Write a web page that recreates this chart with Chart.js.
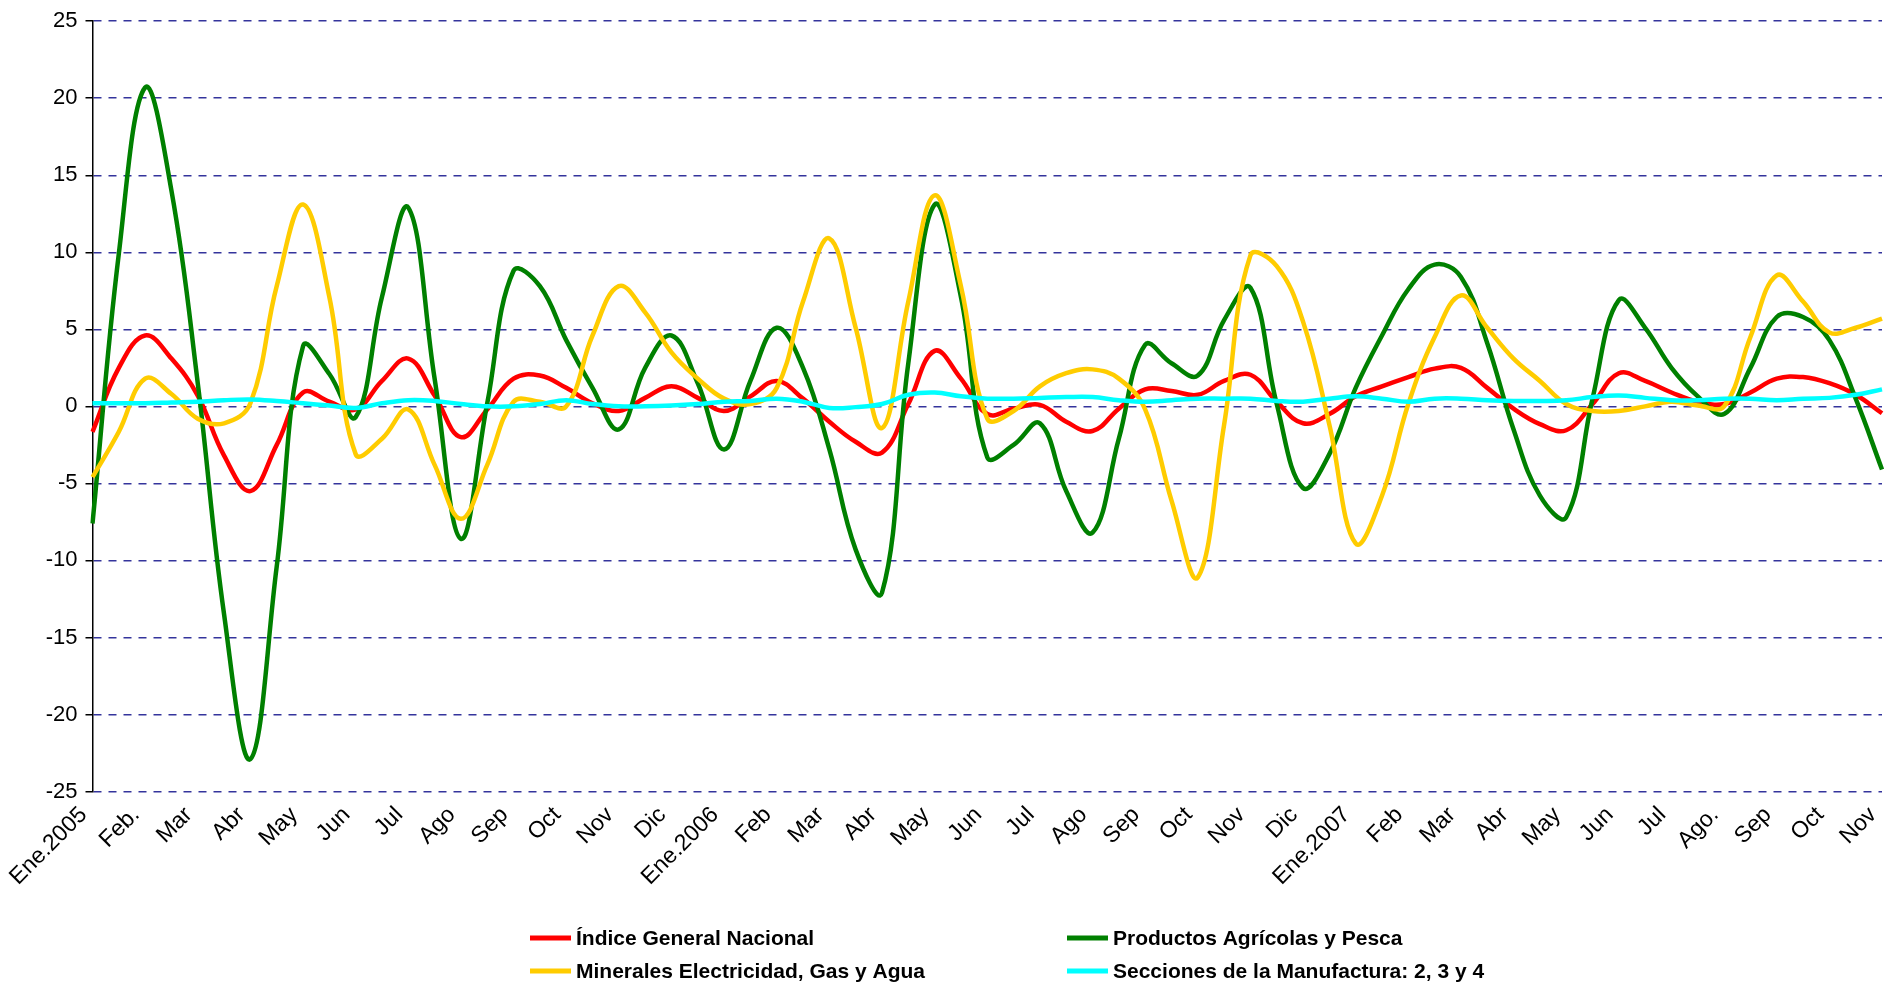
<!DOCTYPE html>
<html>
<head>
<meta charset="utf-8">
<script src="https://cdn.jsdelivr.net/npm/chart.js@4"></script>
<style>
  html, body { margin: 0; padding: 0; background: #fff; }
  #wrap { width: 1889px; height: 984px; position: relative; }
</style>
</head>
<body>
<div id="wrap"><canvas id="chart"></canvas></div>
<script>
// months on the axis; series are read twice a month (start + mid month)
const monthLabels = ['Ene.2005', 'Feb.', 'Mar', 'Abr', 'May', 'Jun', 'Jul', 'Ago', 'Sep', 'Oct', 'Nov', 'Dic',
  'Ene.2006', 'Feb', 'Mar', 'Abr', 'May', 'Jun', 'Jul', 'Ago', 'Sep', 'Oct', 'Nov', 'Dic',
  'Ene.2007', 'Feb', 'Mar', 'Abr', 'May', 'Jun', 'Jul', 'Ago.', 'Sep', 'Oct', 'Nov'];

const indiceGeneral = [-1.65, 2.5, 4.6, 3.1, 0.7, -3.2, -5.5, -2.5, 0.9, 0.3, -0.2, 1.65, 3.1, 0.7, -2.0, -0.2, 1.8,
  2.0, 1.2, 0.2, -0.3, 0.55, 1.3, 0.55, -0.3, 0.65, 1.65, 0.5, -1.0, -2.3, -3.0, 0.15, 3.6, 1.8,
  -0.5, -0.15, 0.1, -1.0, -1.6, -0.15, 1.1, 1.0, 0.75, 1.65, 2.05, 0.3, -1.1, -0.5, 0.65, 1.3, 1.9,
  2.45, 2.5, 1.2, -0.15, -1.15, -1.55, 0.15, 2.15, 1.65, 0.9, 0.3, 0.15, 0.9, 1.8, 1.9, 1.5, 0.75, -0.45];

const productosAgricolas = [-7.6, 9.9, 20.7, 14.0, 1.5, -13.5, -22.9, -10.4, 3.9, 2.1, -0.7, 7.1, 12.9, 1.8, -8.6, 0.2, 8.8,
  7.8, 4.3, 1.2, -1.5, 2.5, 4.6, 1.5, -2.8, 1.65, 5.1, 2.5, -2.8, -9.3, -12.1, 2.8, 13.1, 7.1,
  -3.3, -2.5, -1.1, -5.5, -8.2, -2.1, 4.0, 2.8, 2.0, 5.6, 7.7, 0.15, -5.3, -3.1, 1.2, 4.6, 7.6,
  9.2, 8.4, 4.1, -1.5, -5.8, -7.2, 0.5, 6.9, 5.1, 2.5, 0.65, -0.5, 2.5, 5.8, 5.8, 4.3, 0.5, -4.1];

const mineralesElectricidad = [-4.6, -1.65, 1.8, 0.8, -0.8, -1.1, 0.2, 7.8, 13.1, 7.1, -3.1, -2.1, -0.2, -3.8, -7.3, -3.8, 0.3,
  0.3, 0.0, 4.6, 7.8, 6.1, 3.5, 1.8, 0.5, 0.15, 1.2, 6.8, 10.9, 5.1, -1.4, 6.8, 13.7, 7.8,
  -0.8, -0.3, 1.3, 2.15, 2.4, 1.8, -0.2, -6.1, -11.1, -1.2, 9.8, 9.1, 5.5, -1.2, -8.9, -5.8, 0.15,
  4.5, 7.2, 5.1, 3.1, 1.65, 0.15, -0.3, -0.3, 0.0, 0.3, 0.05, 0.0, 4.5, 8.5, 6.8, 4.8, 5.1, 5.7];

const seccionesManufactura = [0.2, 0.2, 0.2, 0.25, 0.3, 0.4, 0.45, 0.35, 0.2, 0.05, -0.1, 0.2, 0.4, 0.35, 0.15, 0.0, 0.0,
  0.15, 0.4, 0.15, 0.0, 0.0, 0.05, 0.15, 0.3, 0.35, 0.5, 0.3, -0.1, -0.05, 0.15, 0.75, 0.9, 0.65,
  0.5, 0.5, 0.55, 0.6, 0.6, 0.4, 0.3, 0.4, 0.5, 0.5, 0.5, 0.35, 0.3, 0.5, 0.65, 0.5, 0.3,
  0.5, 0.5, 0.4, 0.35, 0.35, 0.4, 0.6, 0.7, 0.55, 0.4, 0.4, 0.5, 0.5, 0.4, 0.5, 0.55, 0.75, 1.1];

// one category per reading, only the month starts carry a label
const categories = [];
monthLabels.forEach((m, i) => {
  categories.push(m);
  if (i < monthLabels.length - 1) categories.push('');
});

const FONT = '"Liberation Sans", Arial, sans-serif';

// two column legend under the plot, like the original
const gridLegend = {
  id: 'gridLegend',
  afterDraw(chart) {
    const ctx = chart.ctx;
    const cols = [530, 1067];
    const rows = [938, 971];
    ctx.save();
    ctx.font = 'bold 21px ' + FONT;
    ctx.textBaseline = 'middle';
    ctx.textAlign = 'left';
    chart.data.datasets.forEach((ds, i) => {
      const x = cols[i % 2];
      const y = rows[Math.floor(i / 2)];
      ctx.strokeStyle = ds.borderColor;
      ctx.lineWidth = 5;
      ctx.beginPath();
      ctx.moveTo(x, y);
      ctx.lineTo(x + 41, y);
      ctx.stroke();
      ctx.fillStyle = '#000';
      ctx.fillText(ds.label, x + 46, y + 1);
    });
    ctx.restore();
  }
};

function line(label, data, color, order) {
  return {
    label, data, order,
    borderColor: color,
    backgroundColor: color,
    borderWidth: 4.5,
    pointRadius: 0,
    tension: 0.4,
    fill: false
  };
}

new Chart(document.getElementById('chart'), {
  type: 'line',
  data: {
    labels: categories,
    datasets: [
      line('Índice General Nacional', indiceGeneral, '#ff0000', 4),
      line('Productos Agrícolas y Pesca', productosAgricolas, '#008000', 3),
      line('Minerales Electricidad, Gas y Agua', mineralesElectricidad, '#ffcc00', 2),
      line('Secciones de la Manufactura: 2, 3 y 4', seccionesManufactura, '#00ffff', 1)
    ]
  },
  options: {
    responsive: true,
    maintainAspectRatio: false,
    animation: false,
    layout: { padding: { top: 20, right: 7, bottom: 0, left: 0 } },
    plugins: {
      legend: { display: false },
      tooltip: { enabled: false }
    },
    scales: {
      x: {
        offset: false,
        grid: { display: false },
        border: { display: false },
        ticks: {
          autoSkip: false,
          minRotation: 45,
          maxRotation: 45,
          padding: 2,
          labelOffset: -9,
          color: '#000',
          font: { family: FONT, size: 23 }
        },
        afterFit(scale) {
          scale.height = 192.5;
          scale.paddingLeft = 0;
          scale.paddingRight = 0;
        }
      },
      y: {
        min: -25,
        max: 25,
        ticks: {
          stepSize: 5,
          padding: 8,
          color: '#000',
          font: { family: FONT, size: 22 }
        },
        grid: {
          color: '#34349c',
          lineWidth: 1.5,
          tickLength: 7,
          tickColor: '#000',
          tickWidth: 1.5,
          tickBorderDash: []
        },
        border: { display: true, color: '#000', width: 1.5, dash: [8, 7] },
        afterFit(scale) { scale.width = 92.5; }
      }
    }
  },
  plugins: [gridLegend]
});
</script>
</body>
</html>
